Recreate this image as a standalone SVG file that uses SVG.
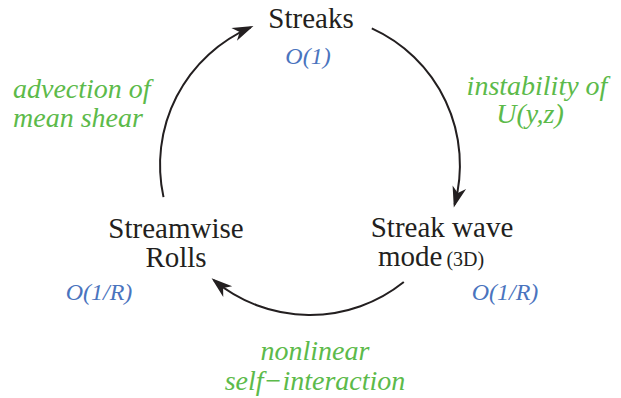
<svg xmlns="http://www.w3.org/2000/svg" width="621" height="398" viewBox="0 0 621 398">
<defs>
<marker id="ah" markerUnits="userSpaceOnUse" markerWidth="26" markerHeight="18" viewBox="-23 -9 26 18" refX="-3" refY="0" orient="auto">
<path d="M0,0 L-21,-7 L-15,0 L-21,7 Z" fill="#231f20"/>
</marker>
</defs>
<g id="connectors" fill="none" stroke="#231f20" stroke-width="2">
<path d="M371.8,28.4 A150,150 0 0 1 454.6,204.6" marker-end="url(#ah)"/>
<path d="M403.8,282 A150,150 0 0 1 213.9,280.2" marker-end="url(#ah)"/>
<path d="M163.5,197.1 A150,150 0 0 1 250.7,27.3" marker-end="url(#ah)"/>
</g>
<g font-family="Liberation Serif">
<g id="streaks">
<text font-size="29" fill="#231f20" x="311" y="28" text-anchor="middle">Streaks</text>
<text font-size="24" font-style="italic" fill="#4a74be" x="308" y="64" text-anchor="middle">O(1)</text>
</g>
<g id="wave">
<text font-size="29" fill="#231f20" x="442" y="237" text-anchor="middle">Streak wave</text>
<text font-size="29" fill="#231f20" x="378" y="266">mode<tspan font-size="20" dx="4">(3D)</tspan></text>
<text font-size="24" font-style="italic" fill="#4a74be" x="505" y="300" text-anchor="middle">O(1/R)</text>
</g>
<g id="rolls">
<text font-size="29" fill="#231f20" x="176" y="238" text-anchor="middle">Streamwise</text>
<text font-size="29" fill="#231f20" x="176" y="267" text-anchor="middle">Rolls</text>
<text font-size="24" font-style="italic" fill="#4a74be" x="99" y="300" text-anchor="middle">O(1/R)</text>
</g>
<g id="labels" font-size="28" font-style="italic" fill="#5cba4a">
<text x="13" y="98">advection of</text>
<text x="13" y="127">mean shear</text>
<text x="537" y="95" text-anchor="middle">instability of</text>
<text x="530" y="123" text-anchor="middle">U(y,z)</text>
<text x="315" y="360" text-anchor="middle">nonlinear</text>
<text x="315" y="390" text-anchor="middle">self−interaction</text>
</g>
</g>
</svg>
